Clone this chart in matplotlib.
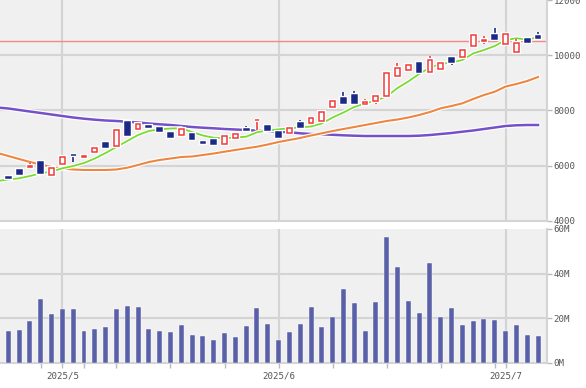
import matplotlib
matplotlib.use('Agg')
import matplotlib.pyplot as plt
import matplotlib.patheffects as pe
from datetime import date
import numpy as np

# ---------------- data ----------------
dates = ["2025-04-23", "2025-04-24", "2025-04-25", "2025-04-28", "2025-04-30",
         "2025-05-01", "2025-05-02", "2025-05-07", "2025-05-08", "2025-05-09",
         "2025-05-12", "2025-05-13", "2025-05-14", "2025-05-15", "2025-05-16",
         "2025-05-19", "2025-05-20", "2025-05-21", "2025-05-22", "2025-05-23",
         "2025-05-26", "2025-05-27", "2025-05-28", "2025-05-29", "2025-05-30",
         "2025-06-02", "2025-06-03", "2025-06-04", "2025-06-05", "2025-06-06",
         "2025-06-09", "2025-06-10", "2025-06-11", "2025-06-12", "2025-06-13",
         "2025-06-16", "2025-06-17", "2025-06-18", "2025-06-19", "2025-06-20",
         "2025-06-23", "2025-06-24", "2025-06-25", "2025-06-26", "2025-06-27",
         "2025-06-30", "2025-07-01", "2025-07-02", "2025-07-03", "2025-07-04"]

opens = [5570, 5820, 5960, 6120, 5660, 6040, 6390, 6300, 6500, 6800,
         6690, 7590, 7320, 7420, 7360, 7170, 7090, 7140, 6840, 6920,
         6780, 7000, 7310, 7640, 7430, 7220, 7170, 7530, 7540, 7630,
         8110, 8440, 8560, 8240, 8350, 8530, 9260, 9470, 9700, 9400,
         9490, 9910, 9950, 10340, 10530, 10730, 10400, 10110, 10570, 10700]
closes = [5540, 5690, 5990, 5720, 5900, 6320, 6370, 6330, 6620, 6660,
          7290, 7110, 7500, 7390, 7240, 7030, 7310, 6970, 6820, 6780,
          7080, 7130, 7280, 7660, 7300, 7050, 7350, 7390, 7740, 7930,
          8340, 8260, 8280, 8300, 8520, 9360, 9550, 9650, 9390, 9820,
          9730, 9770, 10190, 10730, 10560, 10590, 10770, 10430, 10470, 10640]
highs = [5620, 5830, 6100, 6150, 5920, 6350, 6400, 6350, 6640, 6820,
         7310, 7620, 7540, 7490, 7400, 7180, 7350, 7160, 6880, 6980,
         7100, 7150, 7450, 7670, 7450, 7240, 7370, 7650, 7760, 7950,
         8360, 8680, 8700, 8400, 8550, 9430, 9730, 9670, 9720, 9980,
         9750, 9970, 10220, 10770, 10700, 10970, 10830, 10590, 10600, 10850]
lows = [5500, 5680, 5900, 5700, 5620, 6020, 6140, 6240, 6420, 6640,
        6670, 7100, 7300, 7320, 7190, 7010, 7060, 6900, 6790, 6760,
        6770, 6930, 7200, 7290, 7280, 7030, 7160, 7370, 7520, 7610,
        8090, 8240, 8260, 8220, 8220, 8510, 9240, 9440, 9370, 9380,
        9460, 9640, 9930, 10320, 10400, 10570, 10380, 10090, 10440, 10620]

volume_m = [14.2, 14.7, 18.9, 28.5, 21.9, 24.1, 24.1, 14.2, 15.1, 15.9,
            24.1, 25.3, 24.9, 15.1, 14.2, 13.8, 16.8, 12.4, 12.0, 10.0,
            13.3, 11.7, 16.5, 24.6, 17.2, 10.0, 13.8, 17.3, 24.9, 15.9,
            20.7, 33.2, 26.7, 14.3, 27.2, 56.4, 43.1, 27.8, 22.5, 44.9,
            20.7, 24.6, 16.8, 18.6, 19.8, 19.1, 14.3, 16.8, 12.6, 12.1]

# moving averages, first value belongs to the session before the first candle
ma_short = [5439, 5493, 5537, 5620, 5718, 5783, 5899, 5983, 6091, 6254, 6454,
            6671, 6889, 7106, 7251, 7313, 7342, 7349, 7215, 7088, 7008,
            6987, 7016, 7045, 7204, 7269, 7313, 7349, 7385, 7414, 7523,
            7741, 7922, 8121, 8248, 8357, 8502, 8810, 9046, 9318, 9553,
            9680, 9734, 9825, 10061, 10188, 10333, 10550, 10612, 10568, 10648]
ma_mid = [6454, 6345, 6236, 6128, 6037, 5946, 5892, 5856, 5838, 5838, 5838,
          5856, 5921, 6019, 6128, 6200, 6254, 6309, 6327, 6381, 6436,
          6501, 6563, 6624, 6682, 6762, 6853, 6925, 6998, 7088, 7168,
          7251, 7324, 7396, 7469, 7541, 7614, 7668, 7741, 7831, 7940,
          8074, 8158, 8255, 8411, 8556, 8676, 8864, 8955, 9064, 9209]
ma_long = [8103, 8067, 8013, 7958, 7904, 7849, 7795, 7741, 7697, 7661, 7632,
           7614, 7588, 7559, 7523, 7494, 7469, 7433, 7396, 7371, 7349,
           7324, 7306, 7288, 7262, 7251, 7226, 7204, 7168, 7143, 7132,
           7114, 7095, 7081, 7070, 7070, 7070, 7070, 7070, 7081, 7106,
           7143, 7179, 7226, 7269, 7324, 7378, 7433, 7458, 7469, 7469]

ref_level = 10500
price_ticks = [4000, 6000, 8000, 10000, 12000]
vol_ticks = [0, 20, 40, 60]

# ---------------- styling ----------------
RED = '#f23a3a'
BLUE = '#1b2a87'
VOLC = '#5960a8'
BG = '#f0f0f0'
GRID = '#d4d4d4'
TXT = '#555555'
FONT = 'DejaVu Sans Mono'
FS = 6.6

halo = lambda w: [pe.Stroke(linewidth=w, foreground='white'), pe.Normal()]

n = len(dates)
x = np.arange(n)
xma = np.arange(-1, n)
dts = [date.fromisoformat(d) for d in dates]

month_idx = [i for i in range(1, n) if dts[i].month != dts[i - 1].month]
month_lab = [f"{dts[i].year}/{dts[i].month}" for i in month_idx]
week_idx = [i for i in range(1, n) if dts[i].isocalendar()[1] != dts[i - 1].isocalendar()[1]]

fig = plt.figure(figsize=(5.86, 3.88), dpi=100)
fig.patch.set_facecolor('white')
ax1 = fig.add_axes([0, 0.4312, 0.9329, 0.5688])
ax2 = fig.add_axes([0, 0.0652, 0.9329, 0.3446])

xlim = (-0.77, 49.8)
for ax in (ax1, ax2):
    ax.set_facecolor(BG)
    ax.set_xlim(*xlim)
    for s in ('left', 'top'):
        ax.spines[s].set_visible(False)
    for s in ('right', 'bottom'):
        ax.spines[s].set_color(GRID)
        ax.spines[s].set_linewidth(1.5)
    ax.yaxis.tick_right()
    ax.tick_params(axis='y', length=3.6, width=1, color='#bbbbbb', pad=1.5,
                   labelsize=FS, labelcolor=TXT)
    for i in month_idx:
        ax.axvline(i, color=GRID, lw=1.5, zorder=0.5)

# ---- price panel ----
ax1.set_ylim(4000, 12000)
ax1.set_yticks(price_ticks)
ax1.set_yticklabels([str(v) for v in price_ticks], family=FONT)
for v in price_ticks[1:-1]:
    ax1.axhline(v, color=GRID, lw=1.5, zorder=0.5)
ax1.set_xticks([])
ax1.axhline(ref_level, color='#f08a8a', lw=1.0, zorder=1)

ax1.plot(xma, ma_long, color='#7650c8', lw=1.8, zorder=2, path_effects=halo(3.5))
ax1.plot(xma, ma_mid, color='#ee8640', lw=1.5, zorder=2.1, path_effects=halo(3.2))
ax1.plot(xma, ma_short, color='#78dc30', lw=1.3, zorder=2.2, path_effects=halo(3.0))

bw = 0.44
min_h = 25
for i in range(n):
    o, c, h, l = opens[i], closes[i], highs[i], lows[i]
    up = c >= o
    col = RED if up else BLUE
    top, bot = max(o, c), min(o, c)
    if top - bot < min_h:
        mid = (top + bot) / 2
        top, bot = mid + min_h / 2, mid - min_h / 2
    ax1.vlines(i, top, h, color=col, lw=1.2, zorder=3, path_effects=halo(3.0))
    ax1.vlines(i, l, bot, color=col, lw=1.2, zorder=3, path_effects=halo(3.0))
    ax1.bar(i, top - bot, bottom=bot, width=bw,
            color='white' if up else col, edgecolor=col, linewidth=1.1,
            zorder=4, path_effects=halo(3.0))

# ---- volume panel ----
ax2.set_ylim(0, 60)
ax2.set_yticks(vol_ticks)
ax2.set_yticklabels([f"{v}M" for v in vol_ticks], family=FONT)
for v in vol_ticks[1:-1]:
    ax2.axhline(v, color=GRID, lw=1.5, zorder=0.5)
ax2.bar(x, volume_m, width=0.46, color=VOLC, edgecolor='white', linewidth=0.3, zorder=3)

ax2.set_xticks(month_idx)
ax2.set_xticklabels(month_lab, family=FONT)
ax2.set_xticks(week_idx, minor=True)
ax2.tick_params(axis='x', which='both', length=3.5, width=1, color='#bbbbbb',
                labelsize=FS, labelcolor=TXT, pad=3)

fig.savefig('out.png', dpi=100, facecolor='white')
